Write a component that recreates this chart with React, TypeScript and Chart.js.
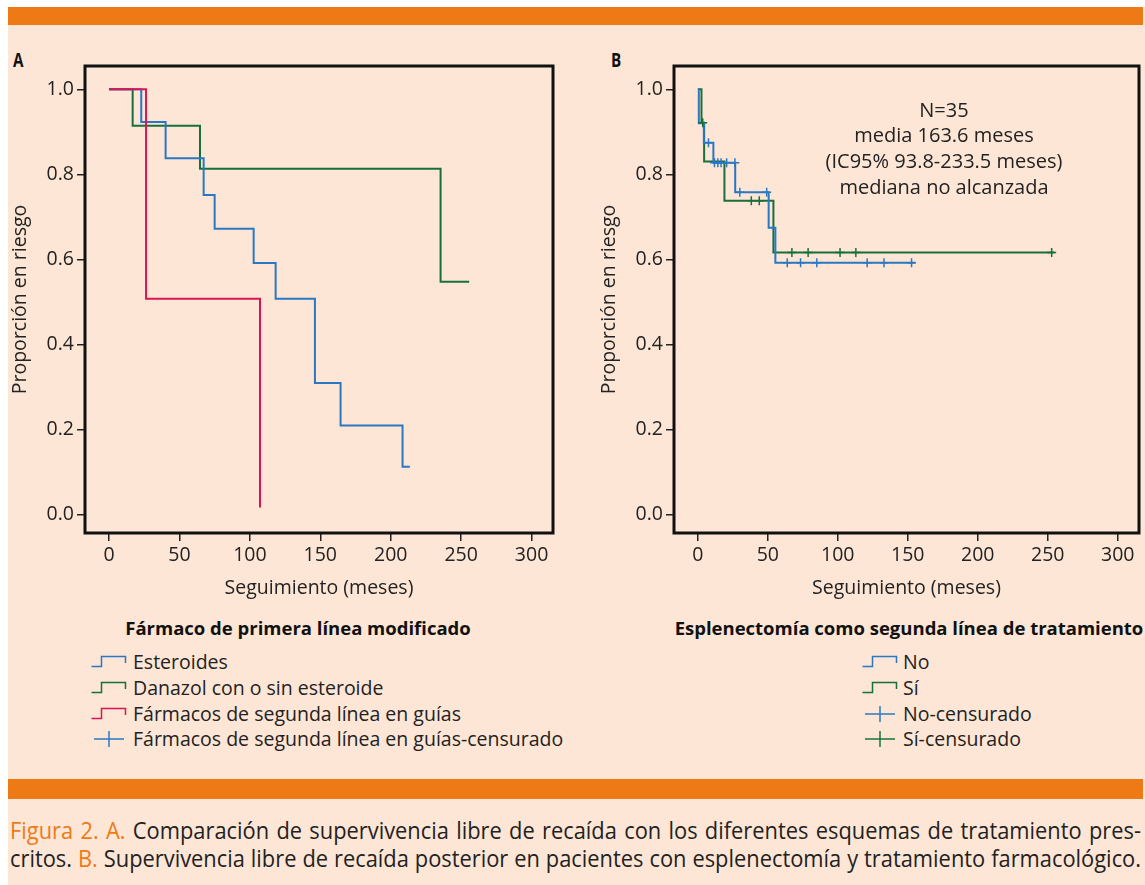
import React, { useEffect, useRef } from "react";
import { Chart, registerables } from "chart.js";
Chart.register(...registerables);

// ---------- data ----------
const xTicks = [0, 50, 100, 150, 200, 250, 300];
const yTicks = [0, 0.2, 0.4, 0.6, 0.8, 1.0];

// Panel A
const aSterT = [0, 22.9, 40.2, 67.2, 75, 102.7, 118.3, 146.2, 164.4, 208.4, 213.6];
const aSterS = [1, 0.923, 0.838, 0.751, 0.672, 0.591, 0.507, 0.309, 0.209, 0.112, 0.112];
const aDanT = [0, 16.8, 64.6, 235.4, 255.7];
const aDanS = [1, 0.914, 0.813, 0.547, 0.547];
const aSegT = [0, 26.3, 107.2];
const aSegS = [1, 0.507, 0.016];

// Panel B
const bNoT = [0, 0.7, 4.3, 11.1, 26.7, 50.6, 55.4, 155.3];
const bNoS = [1, 0.92, 0.874, 0.827, 0.758, 0.674, 0.592, 0.592];
const bSiT = [0, 2.6, 4.5, 19, 54, 254.7];
const bSiS = [1, 0.921, 0.83, 0.738, 0.616, 0.616];
const bNoCensT = [7.6, 11.9, 14.3, 16.6, 20.6, 26.5, 30, 49.2, 63.9, 73.4, 85, 121, 133, 152.7];
const bNoCensS = [0.874, 0.827, 0.827, 0.827, 0.827, 0.827, 0.758, 0.758, 0.592, 0.592, 0.592, 0.592, 0.592, 0.592];
const bSiCensT = [3.5, 38.2, 43.9, 67.2, 78.8, 101.6, 112.9, 252.8];
const bSiCensS = [0.921, 0.738, 0.738, 0.616, 0.616, 0.616, 0.616, 0.616];

const annotation = ["N=35", "media 163.6 meses", "(IC95% 93.8-233.5 meses)", "mediana no alcanzada"];
const legendA = ["Esteroides", "Danazol con o sin esteroide", "Fármacos de segunda línea en guías", "Fármacos de segunda línea en guías-censurado"];
const legendB = ["No", "Sí", "No-censurado", "Sí-censurado"];

// ---------- style ----------
const FONT = "'Open Sans', 'Noto Sans', sans-serif";
const BLUE = "#2a78c4";
const GREEN = "#17703b";
const RED = "#dc1456";
const BG = "#fde6d5";
const ORANGE = "#ee7a16";
const INK = "#222";
const FS = 19.5;

const pts = (t: number[], s: number[]) => t.map((x, i) => ({ x, y: s[i] }));

const curve = (t: number[], s: number[], color: string) => ({
  data: pts(t, s),
  borderColor: color,
  backgroundColor: color,
  borderWidth: 2,
  stepped: true,
  pointRadius: 0,
  fill: false,
  showLine: true,
});
const censor = (t: number[], s: number[], color: string) => ({
  data: pts(t, s),
  borderColor: color,
  backgroundColor: color,
  borderWidth: 1.5,
  showLine: false,
  pointStyle: "cross",
  pointRadius: 4.5,
});

const framePlugin = {
  id: "frame",
  afterDraw(chart: any) {
    const { ctx, chartArea } = chart;
    const { left, top, right, bottom } = chartArea;
    ctx.save();
    ctx.strokeStyle = "#111";
    ctx.lineWidth = 3;
    ctx.strokeRect(left, top, right - left, bottom - top);
    ctx.restore();
  },
};

function makeOptions(yWidth: number, titlePad: number, padRight: number) {
  const grid = {
    display: true,
    drawOnChartArea: false,
    drawTicks: true,
    tickLength: 8,
    color: "#222",
    lineWidth: 1.5,
  };
  return {
    responsive: false,
    animation: false,
    events: [],
    layout: { padding: { left: 0, top: 26, right: padRight, bottom: 7 } },
    plugins: { legend: { display: false }, tooltip: { enabled: false } },
    scales: {
      x: {
        type: "linear",
        min: -17.03,
        max: 315.2,
        afterBuildTicks: (s: any) => {
          s.ticks = xTicks.map((v) => ({ value: v }));
        },
        afterFit: (s: any) => {
          s.height = 70;
        },
        grid,
        border: { display: false },
        ticks: {
          font: { family: FONT, size: FS },
          color: INK,
          padding: 3,
          maxRotation: 0,
          autoSkip: false,
          callback: (v: any) => String(v),
        },
        title: {
          display: true,
          text: "Seguimiento (meses)",
          font: { family: FONT, size: FS },
          color: INK,
          padding: { top: 0, bottom: 3.3 },
        },
      },
      y: {
        type: "linear",
        min: -0.044,
        max: 1.0548,
        afterBuildTicks: (s: any) => {
          s.ticks = yTicks.map((v) => ({ value: v }));
        },
        afterFit: (s: any) => {
          s.width = yWidth;
        },
        grid,
        border: { display: false },
        ticks: {
          font: { family: FONT, size: FS },
          color: INK,
          padding: 3,
          callback: (v: any) => Number(v).toFixed(1),
        },
        title: {
          display: true,
          text: "Proporción en riesgo",
          font: { family: FONT, size: FS },
          color: INK,
          padding: { top: titlePad, bottom: 0 },
        },
      },
    },
  };
}

function KMChart(props: { datasets: any[]; yWidth: number; titlePad: number; padRight: number; left: number; top: number; width: number; height: number }) {
  const ref = useRef<HTMLCanvasElement | null>(null);
  useEffect(() => {
    if (!ref.current) return;
    const chart = new Chart(ref.current, {
      type: "line",
      data: { datasets: props.datasets },
      options: makeOptions(props.yWidth, props.titlePad, props.padRight) as any,
      plugins: [framePlugin],
    });
    return () => chart.destroy();
  }, []);
  return (
    <canvas
      ref={ref}
      width={props.width}
      height={props.height}
      style={{ position: "absolute", left: props.left, top: props.top, width: props.width, height: props.height }}
    />
  );
}

function StepIcon({ color }: { color: string }) {
  return (
    <svg width="36" height="20" style={{ position: "absolute", left: 0, top: 0 }}>
      <polyline points="0.5,14.5 10.5,14.5 10.5,4.5 34.5,4.5 34.5,11" fill="none" stroke={color} strokeWidth="1.5" />
    </svg>
  );
}
function CrossIcon({ color }: { color: string }) {
  return (
    <svg width="36" height="20" style={{ position: "absolute", left: 0, top: 0 }}>
      <line x1="3" y1="10" x2="33" y2="10" stroke={color} strokeWidth="1.5" />
      <line x1="18" y1="2" x2="18" y2="18" stroke={color} strokeWidth="1.5" />
    </svg>
  );
}

function LegendRow({ x, y, textX, icon, label }: { x: number; y: number; textX: number; icon: any; label: string }) {
  return (
    <>
      <div style={{ position: "absolute", left: x, top: y - 10, width: 36, height: 20 }}>{icon}</div>
      <div style={{ position: "absolute", left: textX, top: y - 13, height: 26, lineHeight: "26px", fontFamily: FONT, fontSize: FS, color: INK, whiteSpace: "nowrap" }}>
        {label}
      </div>
    </>
  );
}

const rowY = [661.5, 687.5, 713.5, 739];

export default function App() {
  const dsA = [
    curve(aSegT, aSegS, RED),
    curve(aSterT, aSterS, BLUE),
    curve(aDanT, aDanS, GREEN),
  ];
  const dsB = [
    censor(bNoCensT, bNoCensS, BLUE),
    censor(bSiCensT, bSiCensS, GREEN),
    curve(bNoT, bNoS, BLUE),
    curve(bSiT, bSiS, GREEN),
  ];
  const SX = 0.93;
  const capBase: any = {
    position: "absolute",
    left: 10,
    width: 1131 / SX,
    height: 28,
    lineHeight: "28px",
    fontFamily: FONT,
    fontSize: 23.5,
    color: INK,
    textAlign: "justify",
    textAlignLast: "justify",
    whiteSpace: "nowrap",
    transform: `scaleX(${SX})`,
    transformOrigin: "0 0",
  };
  const labelAB: any = { position: "absolute", top: 47, fontFamily: FONT, fontWeight: 700, fontSize: 19, color: "#111", transform: "scaleX(0.8)", transformOrigin: "0 0" };
  const legTitle: any = { position: "absolute", top: 615, textAlign: "center", fontFamily: FONT, fontWeight: 700, fontSize: 18.5, lineHeight: "26px", color: "#111", whiteSpace: "nowrap" };
  return (
    <div style={{ position: "absolute", left: 0, top: 0, width: 1145, height: 885, background: "#fff", overflow: "hidden" }}>
      <div style={{ position: "absolute", left: 8, top: 7, width: 1137, height: 878, background: BG }} />
      <div style={{ position: "absolute", left: 8, top: 7, width: 1135, height: 18, background: ORANGE }} />
      <div style={{ position: "absolute", left: 8, top: 779, width: 1135, height: 20, background: ORANGE }} />

      <div style={{ ...labelAB, left: 13 }}>A</div>
      <div style={{ ...labelAB, left: 611 }}>B</div>

      <KMChart datasets={dsA} yWidth={85} titlePad={8.3} padRight={27} left={0} top={40} width={580} height={570} />
      <KMChart datasets={dsB} yWidth={84} titlePad={7.3} padRight={3} left={590} top={40} width={555} height={570} />

      <div style={{ position: "absolute", left: 744, top: 96.5, width: 400, textAlign: "center", fontFamily: FONT, fontSize: 20, lineHeight: "25.8px", color: INK }}>
        {annotation.map((t, i) => (
          <div key={i}>{t}</div>
        ))}
      </div>

      <div style={{ ...legTitle, left: 98, width: 400 }}>Fármaco de primera línea modificado</div>
      <LegendRow x={91} y={rowY[0]} textX={133} icon={<StepIcon color={BLUE} />} label={legendA[0]} />
      <LegendRow x={91} y={rowY[1]} textX={133} icon={<StepIcon color={GREEN} />} label={legendA[1]} />
      <LegendRow x={91} y={rowY[2]} textX={133} icon={<StepIcon color={RED} />} label={legendA[2]} />
      <LegendRow x={91} y={rowY[3]} textX={133} icon={<CrossIcon color={BLUE} />} label={legendA[3]} />

      <div style={{ ...legTitle, left: 659, width: 500 }}>Esplenectomía como segunda línea de tratamiento</div>
      <LegendRow x={862} y={rowY[0]} textX={903} icon={<StepIcon color={BLUE} />} label={legendB[0]} />
      <LegendRow x={862} y={rowY[1]} textX={903} icon={<StepIcon color={GREEN} />} label={legendB[1]} />
      <LegendRow x={862} y={rowY[2]} textX={903} icon={<CrossIcon color={BLUE} />} label={legendB[2]} />
      <LegendRow x={862} y={rowY[3]} textX={903} icon={<CrossIcon color={GREEN} />} label={legendB[3]} />

      <div style={{ ...capBase, top: 816 }}>
        <span style={{ color: ORANGE }}>Figura 2. A.</span> Comparación de supervivencia libre de recaída con los diferentes esquemas de tratamiento pres-
      </div>
      <div style={{ ...capBase, top: 844 }}>
        critos. <span style={{ color: ORANGE }}>B.</span> Supervivencia libre de recaída posterior en pacientes con esplenectomía y tratamiento farmacológico.
      </div>
    </div>
  );
}
